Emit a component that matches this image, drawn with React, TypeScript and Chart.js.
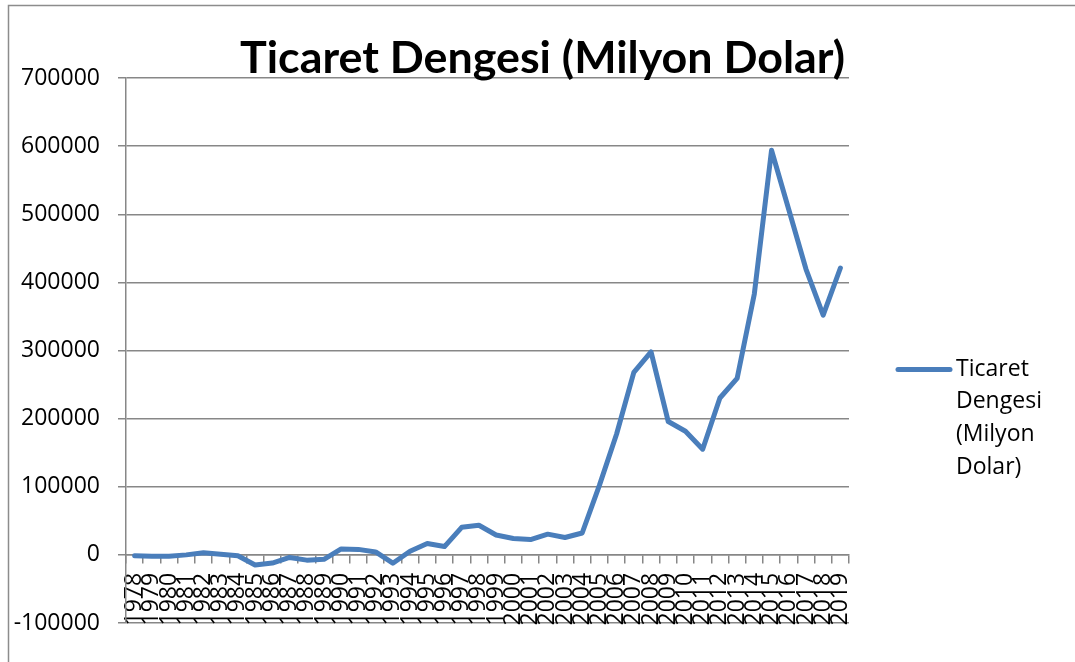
import React, { useEffect, useRef } from "react";
import { Chart, registerables } from "chart.js";

Chart.register(...registerables);

const years = [
  "1978", "1979", "1980", "1981", "1982", "1983", "1984", "1985", "1986", "1987",
  "1988", "1989", "1990", "1991", "1992", "1993", "1994", "1995", "1996", "1997",
  "1998", "1999", "2000", "2001", "2002", "2003", "2004", "2005", "2006", "2007",
  "2008", "2009", "2010", "2011", "2012", "2013", "2014", "2015", "2016", "2017",
  "2018", "2019",
];

const balance = [
  -1140, -2010, -1900, 0, 3030, 840, -1270, -14900, -11960, -3780,
  -7750, -6600, 8740, 8050, 4350, -12220, 5390, 16700, 12220, 40420,
  43470, 29230, 24110, 22550, 30430, 25470, 32100, 102000, 177500, 268000,
  298100, 195700, 181500, 155100, 230300, 259000, 383100, 593900, 507000, 419600,
  351800, 421100,
];

const yTickValues = [-100000, 0, 100000, 200000, 300000, 400000, 500000, 600000, 700000];

const seriesName = "Ticaret Dengesi (Milyon Dolar)";
const titleText = "Ticaret Dengesi (Milyon Dolar)";

const FONT = "'Open Sans', Lato, sans-serif";
const TITLE_FONT = "Lato, 'Open Sans', sans-serif";
const GRID = "#878787";
const LINE = "#4A7EBB";

function fitSize(text: string, weight: string, family: string, target: number): number {
  const c = document.createElement("canvas").getContext("2d");
  if (!c) return 22;
  c.font = `${weight} 100px ${family}`;
  const w = c.measureText(text).width;
  return w > 0 ? (100 * target) / w : 22;
}

export default function App() {
  const ref = useRef<HTMLCanvasElement>(null);

  useEffect(() => {
    const canvas = ref.current;
    if (!canvas) return;

    const tickSize = fitSize("700000", "normal", FONT, 79);
    const titleSize = fitSize(titleText, "bold", TITLE_FONT, 605);

    const decor = {
      id: "decor",
      beforeDraw(chart: any) {
        const ctx = chart.ctx;
        ctx.save();
        ctx.strokeStyle = "#8c8c8c";
        ctx.lineWidth = 1.5;
        ctx.beginPath();
        ctx.moveTo(8.5, 662);
        ctx.lineTo(8.5, 5.5);
        ctx.lineTo(1075, 5.5);
        ctx.stroke();
        ctx.restore();
      },
      afterDraw(chart: any) {
        const ctx = chart.ctx;
        ctx.save();
        ctx.fillStyle = "#000";
        ctx.font = `bold ${titleSize}px ${TITLE_FONT}`;
        ctx.textAlign = "center";
        ctx.textBaseline = "alphabetic";
        ctx.fillText(titleText, 542.5, 73);

        ctx.strokeStyle = LINE;
        ctx.lineWidth = 5;
        ctx.lineCap = "round";
        ctx.beginPath();
        ctx.moveTo(898, 369.5);
        ctx.lineTo(950, 369.5);
        ctx.stroke();

        ctx.font = `${tickSize}px ${FONT}`;
        ctx.textAlign = "left";
        ctx.textBaseline = "middle";
        seriesName.split(" ").forEach((t, i) => ctx.fillText(t, 956, 369 + i * 32.7));
        ctx.restore();
      },
    };

    const chart = new Chart(canvas, {
      type: "line",
      data: {
        labels: years,
        datasets: [
          {
            label: seriesName,
            data: balance,
            borderColor: LINE,
            backgroundColor: LINE,
            borderWidth: 5,
            pointRadius: 0,
            tension: 0,
            borderJoinStyle: "round",
            borderCapStyle: "round",
          },
        ],
      },
      options: {
        responsive: false,
        animation: false,
        layout: { padding: { left: 8, right: 226, top: 78, bottom: 39 } },
        plugins: {
          legend: { display: false },
          title: { display: false },
          tooltip: { enabled: false },
        },
        scales: {
          x: {
            type: "category",
            position: { y: 0 },
            offset: true,
            grid: {
              offset: true,
              drawOnChartArea: false,
              drawTicks: true,
              tickLength: 8,
              color: GRID,
              lineWidth: 1.5,
            },
            border: { display: true, color: GRID, width: 1.5 },
            ticks: {
              autoSkip: false,
              maxRotation: 90,
              minRotation: 90,
              padding: 10,
              color: "#000",
              font: { family: FONT, size: tickSize },
            },
          },
          y: {
            min: -100000,
            max: 700000,
            afterBuildTicks: (s: any) => {
              s.ticks = yTickValues.map((v) => ({ value: v }));
            },
            afterFit: (s: any) => {
              s.width = 118;
            },
            grid: { color: GRID, lineWidth: 1.5, tickLength: 8, drawTicks: true },
            border: { display: true, color: GRID, width: 1.5 },
            ticks: {
              padding: 18,
              color: "#000",
              font: { family: FONT, size: tickSize },
              callback: (v: any) => String(v),
            },
          },
        },
      },
      plugins: [decor],
    } as any);

    return () => chart.destroy();
  }, []);

  return (
    <div style={{ position: "fixed", left: 0, top: 0, width: 1075, height: 662, background: "#fff" }}>
      <canvas ref={ref} width={1075} height={662} style={{ display: "block" }} />
    </div>
  );
}
